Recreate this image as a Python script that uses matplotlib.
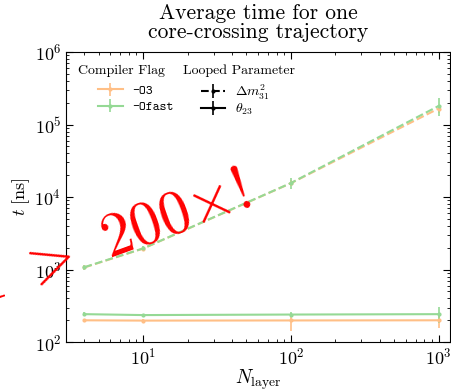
import matplotlib
matplotlib.use("Agg")
import matplotlib.pyplot as plt

plt.rcParams["font.family"] = "serif"
plt.rcParams["font.serif"] = ["cmr10"]
plt.rcParams["mathtext.fontset"] = "cm"
plt.rcParams["axes.formatter.use_mathtext"] = True

# number of layers
n_layer = [4, 10, 100, 1000]

# average time per trajectory [ns]
dm31_O3 = [1070, 1950, 15500, 166000]
dm31_O3_err = [60, 120, 1500, 20000]
dm31_Ofast = [1080, 1960, 15600, 180000]
dm31_Ofast_err = [80, 150, 2500, 50000]

th23_O3 = [200, 198, 199, 200]
th23_O3_err = [10, 10, 55, 45]
th23_Ofast = [243, 236, 240, 243]
th23_Ofast_err = [15, 12, 20, 60]

col_O3 = "#ffbf86"
col_Ofast = "#95d995"

fig = plt.figure(figsize=(4.52, 3.91), dpi=100)
ax = fig.add_axes([0.146, 0.125, 0.85, 0.742])

kw = dict(fmt=".", markersize=4, capsize=0, elinewidth=1.2, lw=1.5)
ax.errorbar(n_layer, dm31_O3, yerr=dm31_O3_err, color=col_O3, ls="--", **kw)
ax.errorbar(n_layer, dm31_Ofast, yerr=dm31_Ofast_err, color=col_Ofast, ls="--", **kw)
h1 = ax.errorbar(n_layer, th23_O3, yerr=th23_O3_err, color=col_O3, ls="-", **kw)
h2 = ax.errorbar(n_layer, th23_Ofast, yerr=th23_Ofast_err, color=col_Ofast, ls="-", **kw)

# proxies for the second legend
p1 = ax.errorbar([], [], yerr=[], color="k", ls="--", **kw)
p2 = ax.errorbar([], [], yerr=[], color="k", ls="-", **kw)

ax.set_xscale("log")
ax.set_yscale("log")
ax.set_xlim(3, 1200)
ax.set_ylim(1e2, 1e6)
ax.tick_params(which="both", direction="in", top=True, right=True, labelsize=13)
ax.tick_params(which="major", length=5)
ax.tick_params(which="minor", length=2.5)

ax.set_title("Average time for one\ncore-crossing trajectory", fontsize=15.5, pad=10,
             linespacing=0.95)
ax.set_xlabel(r"$N_{\mathrm{layer}}$", fontsize=14, labelpad=0)
ax.set_ylabel(r"$t\ [\mathrm{ns}]$", fontsize=13, labelpad=2)

# legend titles as plain text, legends without titles below them
fig.text(78 / 452, 1 - 74 / 391, "Compiler Flag", fontsize=10)
fig.text(183 / 452, 1 - 74 / 391, "Looped Parameter", fontsize=10)

leg1 = ax.legend([h1, h2], ["-O3", "-Ofast"],
                 prop={"family": "cmtt10", "size": 9.5},
                 frameon=False, loc="upper left",
                 bbox_to_anchor=(86 / 452, 1 - 73 / 391),
                 bbox_transform=fig.transFigure,
                 handlelength=1.9, handletextpad=0.7, labelspacing=0.3)
ax.add_artist(leg1)
ax.legend([p1, p2], [r"$\Delta m^2_{31}$", r"$\theta_{23}$"],
          prop={"size": 10}, frameon=False, loc="upper left",
          bbox_to_anchor=(189 / 452, 1 - 70 / 391),
          bbox_transform=fig.transFigure,
          handlelength=1.7, handletextpad=0.7, labelspacing=0.0)

fig.text(0.560, 0.4744, r"f $>$ 200$\times$!", color="red", fontsize=44,
         rotation=20, ha="right", va="baseline", rotation_mode="anchor")

fig.savefig("out.png", dpi=100)
